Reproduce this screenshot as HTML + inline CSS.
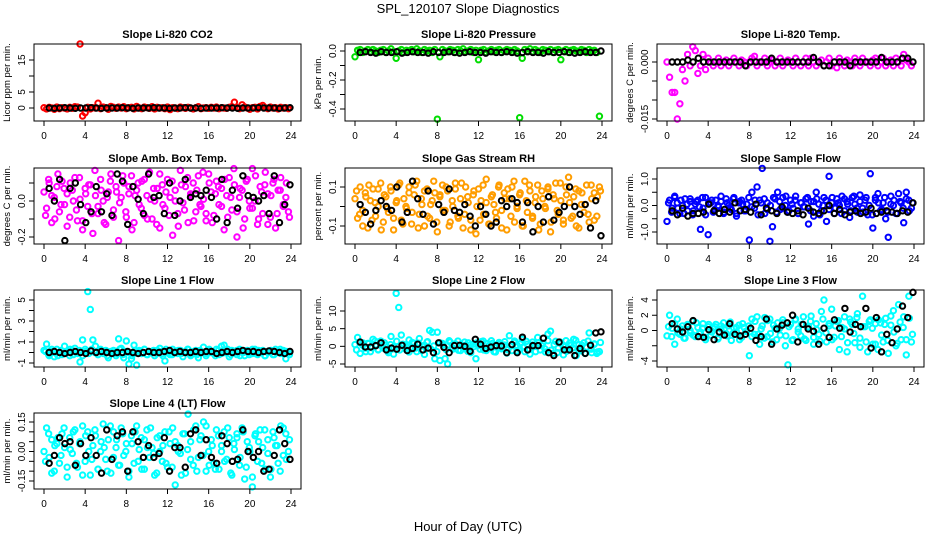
<!DOCTYPE html>
<html><head><meta charset="utf-8"><style>
body{margin:0;background:#fff;}
svg{display:block;font-family:"Liberation Sans",sans-serif;}
</style></head><body>
<svg id="chart" width="936" height="540" viewBox="0 0 936 540">
<text x="468" y="13" font-size="13" text-anchor="middle">SPL_120107  Slope Diagnostics</text>
<text x="468" y="531" font-size="13" text-anchor="middle">Hour of Day (UTC)</text>
</svg>
<script>
// ---- data ----
const xTicks = [0,4,8,12,16,20,24];
const co2Col = [0.1,-0.3,0.2,0,-0.4,0.3,-0.2,0.1,0,-0.3,0.2,-0.1,0.4,0.3,20,-2.5,-1.5,0.2,-0.3,0.1,0,1.5,-0.2,0.3,0.1,-0.4,0.5,0.2,-0.1,0.3,0,0.4,-0.2,0.1,0.2,-0.3,0.5,0,-0.2,0.3,0.1,-0.1,0.4,-0.3,0.2,0,0.1,-0.2,0.3,-0.5,0.1,0,-0.2,0.3,0.1,-0.1,0.2,0,-0.3,0.1,0.4,-0.2,0,0.1,-0.1,0.2,0,0.3,-0.2,0.1,0,-0.1,0.2,0.4,1.8,0.1,-0.2,1.0,0.3,0,-0.4,0.1,0.2,-0.3,0.5,0.8,0.1,-0.2,0.3,0,0.1,-0.3,0.2,0,0.1,-0.2];
const co2Blk = [0,-0.1,0,0.1,0,-0.1,0,0,0.1,0,-0.1,0,0,0,0.1,0,-0.1,0,0,0,0.1,0,0,-0.1,0,0,0.1,0,0,-0.1,0,0,0,0.1,0,0,-0.1,0,0,0,0.1,0,0,0,-0.1,0,0.1];
const presCol = [-0.04,0.005,0.01,-0.01,0,0.01,-0.005,0.01,0,-0.01,0.005,0.01,-0.01,0,0.015,-0.005,-0.05,0,0.01,-0.01,0.005,0,0.01,-0.005,0.015,0,-0.01,0.01,0,0.005,-0.01,0.01,-0.47,-0.04,0.01,0,-0.005,0.01,0.005,-0.01,0.01,0,0.015,-0.005,0,0.01,-0.01,0.005,-0.06,0.005,0.01,-0.01,0,0.01,-0.005,0.005,0.01,-0.01,0,0.01,0.005,-0.005,0.01,0,-0.46,-0.05,0.01,0,0.015,-0.005,0.01,0,-0.01,0.01,0.005,0,0.01,-0.01,0.005,0.01,-0.06,0,0.01,-0.01,0.005,0.01,0,-0.005,0.01,0.005,-0.01,0.01,0,0.005,-0.01,-0.45];
const presBlk = [-0.01,-0.005,-0.01,-0.015,-0.005,-0.01,-0.01,-0.005,-0.015,-0.01,-0.005,-0.01,-0.01,-0.015,-0.005,-0.01,-0.01,-0.005,-0.01,-0.015,-0.01,-0.005,-0.01,-0.01,-0.015,-0.005,-0.01,-0.01,-0.005,-0.01,-0.015,-0.01,-0.005,-0.01,-0.01,-0.015,-0.005,-0.01,-0.01,-0.005,-0.01,-0.015,-0.01,-0.005,-0.01,-0.01,0];
const tempCol = [0,-0.004,-0.008,-0.008,-0.015,-0.011,-0.002,-0.005,0.002,-0.001,0.004,0.003,-0.003,-0.001,0.002,-0.002,0.001,0,-0.001,0,0.001,-0.001,0,0.0005,-0.001,0,0.001,0,-0.001,0.0005,0,-0.001,0,0.001,0.0015,-0.001,0,0,0.001,-0.001,0,0.0005,-0.001,0,0.001,-0.001,0,0.0005,0,-0.001,0.001,0,-0.001,0,0.001,-0.001,0.001,0,-0.001,0,0.0005,-0.001,0,0.001,-0.001,0,-0.0015,0.001,0,-0.001,0.0005,0,-0.001,0.001,0,-0.001,0.001,0,0,-0.001,0.0005,0.001,-0.001,0,0.001,-0.001,0,0.0005,-0.001,0.001,0,-0.001,0.002,0.0005,0,-0.001];
const tempBlk = [0,0,0,0.0005,0,0.001,0,0,0,0,0,0,0,0,-0.001,0,0,0,0,0.001,0,0,0,0,0,0,0,0.0012,0,-0.001,-0.001,0,0,0,-0.001,0,0,0,0,0,0.0012,0,0,0,0.001,0.001,0];
const ambCol = [0.05,-0.04,0.1,-0.12,0.02,0.08,-0.06,0.11,-0.02,0.04,-0.09,0.06,0.13,-0.11,0.01,-0.16,0.07,-0.03,0.09,-0.18,0.03,-0.07,0.12,0.0,-0.13,0.05,0.15,-0.05,0.08,-0.22,0.02,0.1,-0.09,0.04,0.14,-0.12,0.06,-0.02,0.11,-0.08,0.03,0.16,-0.1,0.0,0.07,-0.15,0.09,-0.04,0.12,0.02,-0.19,0.06,-0.07,0.17,-0.01,0.08,-0.12,0.04,0.1,-0.06,0.14,-0.03,0.01,-0.11,0.15,0.05,-0.08,0.11,-0.02,0.07,-0.16,0.03,0.13,-0.05,0.09,-0.2,0.02,0.06,-0.1,0.12,-0.04,0.18,0.0,-0.13,0.08,-0.07,0.16,0.04,-0.09,0.1,-0.15,0.06,0.13,-0.03,0.02,-0.06];
const ambCol2 = [-0.08,0.12,0.03,-0.1,0.15,-0.02,0.07,-0.14,0.1,0.0,-0.05,0.13,-0.11,0.04,0.09,-0.07,0.17,-0.03,0.06,-0.12,0.02,0.11,-0.09,0.05,-0.01,0.14,-0.06,0.08,-0.16,0.03,0.1,-0.04,0.12,-0.1,0.01,0.07,-0.13,0.15,-0.02,0.05,-0.08,0.11,0.0,-0.14,0.09,-0.05,0.13,0.03,-0.11,0.06,-0.02,0.16,-0.07,0.1,-0.12,0.04,0.08,-0.03,0.12,-0.09,0.02,0.18,-0.06,0.07,-0.15,0.11,0.0,-0.04,0.14,-0.1,0.05,0.09,-0.13,0.03,0.12,-0.07,0.06,-0.02,0.1,-0.09];
const ambBlk = [0.07,0.0,0.12,-0.22,0.07,0.1,-0.02,-0.12,-0.06,0.08,-0.06,0.04,-0.08,0.15,0.11,-0.13,0.08,0.01,-0.07,0.15,0.02,0.03,-0.07,0.1,-0.08,0.0,0.12,0.02,0.04,0.03,0.06,0.02,-0.1,0.12,-0.12,0.06,-0.04,0.14,0.03,0.02,0.0,0.03,-0.07,0.14,-0.12,-0.02,0.09];
const rhCol = [0.04,-0.06,0.1,-0.02,0.07,-0.11,0.03,0.09,-0.05,0.0,0.12,-0.08,0.05,-0.03,0.08,-0.12,0.02,0.11,-0.07,0.04,-0.01,0.1,-0.09,0.06,0.13,-0.04,0.01,-0.1,0.09,-0.06,0.03,0.07,-0.13,0.05,0.11,-0.02,0.08,-0.08,0.0,0.12,-0.05,0.04,-0.11,0.1,0.02,-0.07,0.06,-0.14,0.09,0.03,-0.04,0.14,-0.09,0.05,0.01,-0.06,0.11,-0.02,0.07,-0.12,0.04,0.1,-0.08,0.0,0.06,-0.1,0.13,-0.03,0.08,-0.05,0.02,0.11,-0.09,0.04,-0.01,0.09,-0.13,0.06,0.12,-0.04,0.03,-0.07,0.1,0.15,-0.06,0.05,-0.1,0.08,0.01,-0.03,0.11,-0.08,0.04,0.07,-0.05,0.1];
const rhCol2 = [0.08,-0.04,-0.1,0.05,0.11,-0.07,0.02,0.09,-0.12,0.06,-0.01,0.1,-0.06,0.03,0.12,-0.09,0.0,0.07,-0.03,0.11,-0.11,0.04,0.08,-0.05,0.01,0.13,-0.08,0.06,-0.02,0.1,-0.1,0.03,0.09,-0.06,0.12,-0.04,0.05,-0.12,0.08,0.0,-0.07,0.11,0.02,-0.09,0.06,-0.03,0.1,-0.11,0.04,0.09,-0.05,0.13,-0.01,0.07,-0.1,0.03,0.11,-0.06,0.05,-0.12,0.08,0.0,0.1,-0.08,0.04,-0.02,0.12,-0.09,0.06,0.02,-0.05,0.09,-0.11,0.07,0.01,-0.04,0.11,-0.07,0.05,0.08];
const rhBlk = [0.01,-0.03,-0.09,-0.02,0.03,0.0,-0.02,0.1,-0.08,-0.03,0.13,0.04,-0.04,0.08,-0.09,0.01,-0.03,0.09,-0.02,-0.03,0.01,-0.05,-0.1,0.0,-0.04,-0.1,-0.08,0.03,0.0,0.04,0.02,-0.08,0.02,-0.13,0.0,-0.08,0.05,-0.07,-0.03,0.0,0.1,0.0,-0.04,0.01,-0.11,0.03,-0.15];
const flowCol = [-0.6,0.2,-0.1,0.35,0.1,-0.3,0.0,0.25,-0.2,0.15,-0.35,0.05,0.2,-0.9,-0.1,0.3,-1.1,0.1,-0.25,0.2,-0.05,0.15,-0.3,0.25,0.0,-0.15,0.3,-0.4,0.1,0.2,-0.2,0.05,-1.3,0.5,-0.1,0.7,0.2,1.4,-0.3,0.1,-1.35,-0.8,0.25,0.5,-0.15,0.3,0.0,-0.25,0.2,-0.1,0.35,-0.3,0.1,-0.05,0.25,-0.7,0.15,-0.4,0.5,0.05,-0.2,0.3,-0.6,1.1,0.1,-0.3,0.25,0.0,0.35,-0.2,0.15,-0.45,0.3,0.05,-0.25,0.4,-0.1,0.2,-0.35,1.2,-0.85,0.3,0.45,-0.2,0.1,-0.5,-1.2,0.35,0.0,-0.3,0.45,0.1,-0.65,0.5,0.2,-0.1];
const flowCol2 = [0.1,-0.25,0.3,-0.1,0.2,-0.3,0.05,0.25,-0.2,0.15,-0.05,0.3,-0.35,0.1,0.2,-0.15,0.0,0.35,-0.25,0.1,-0.1,0.25,-0.3,0.15,0.05,-0.2,0.3,-0.05,0.2,-0.35,0.1,0.25,-0.15,0.0,0.3,-0.25,0.15,-0.1,0.35,-0.2,0.05,0.2,-0.3,0.1,-0.05,0.3,-0.2,0.15,0.25,-0.35,0.0,0.2,-0.15,0.3,-0.1,0.1,-0.3,0.25,0.05,-0.2,0.35,-0.1,0.15,-0.25,0.3,0.0,-0.35,0.2,0.1,-0.15,0.3,-0.25,0.05,0.2,-0.3,0.15,-0.1,0.25,-0.2,0.1];
const flowBlk = [-0.2,-0.35,-0.1,-0.4,-0.3,-0.3,-0.25,0.05,-0.2,-0.3,-0.15,-0.25,0.1,-0.2,-0.15,-0.25,0.05,-0.35,-0.1,-0.2,-0.3,-0.05,-0.25,-0.3,-0.2,-0.35,-0.1,-0.25,-0.3,-0.2,0.0,-0.3,-0.15,-0.35,-0.25,-0.2,-0.3,-0.25,-0.1,-0.3,-0.25,-0.2,-0.25,-0.3,-0.2,-0.25,0.1];
const l1Col = [0.2,0.8,-0.3,0.1,-0.4,0.3,0.0,-0.2,0.6,0.1,-0.3,0.2,0.4,-0.1,-0.9,1.2,0.3,5.8,4.1,1.2,0.6,-0.2,0.3,-0.1,0.2,-0.5,0.1,0.0,-0.3,1.3,0.4,-0.5,1.1,-1.1,-0.6,0.7,-1.2,0.2,-0.1,0.3,-0.2,0.1,0.0,-0.3,0.2,0.4,-0.1,-0.8,0.1,-0.2,0.3,0.0,-0.1,0.2,-0.4,0.1,0.3,-0.2,0.0,0.2,-0.5,0.1,0.5,-0.3,0.2,0.0,-0.1,0.3,-0.2,0.6,0.7,0.1,-0.4,0.2,0.0,-0.2,0.3,0.1,-0.3,0.2,0.0,-0.1,0.3,-0.2,0.1,0.2,-0.3,0.0,0.1,-0.2,0.3,0.1,-0.1,0.2,-0.6,0.0];
const l1Col2 = [0.1,-0.2,0.3,0.0,-0.3,0.2,-0.1,0.1,0.3,-0.2,0.0,0.2,-0.3,0.1,-0.1,0.3,0.0,-0.2,0.2,0.1,-0.3,0.0,0.2,-0.1,0.3,-0.2,0.1,0.0,-0.3,0.2,0.1,-0.1,0.3,-0.2,0.0,0.2,-0.1,0.1,-0.3,0.3,0.0,-0.2,0.1,0.2,-0.1,0.0,0.3,-0.3,0.1,-0.2,0.2,0.0,-0.1,0.3,0.1,-0.3,0.2,-0.1,0.0,0.3,-0.2,0.1,0.2,-0.3,0.0,0.1,-0.2,0.3,-0.1,0.2,0.0,-0.3,0.1,0.2,-0.2,0.0,0.3,-0.1,0.1,-0.2];
const l1Blk = [0,0.1,0,-0.1,0,0.1,0,-0.1,0.15,0,0.1,0,-0.1,0,0,0.1,0,-0.1,0,0.1,0,0,0.1,0.2,0,0.1,0,0,0.1,0,0.1,0.1,-0.1,0,0.1,0,0.1,0.2,0.1,0.1,0,0.1,0.15,0.1,0,-0.1,0.1];
const l2Col = [0.5,2.5,-2,1,-0.5,0.8,-1.5,2,0.2,-1,1.5,-0.5,0.3,-1.8,2.8,-2.2,15,11,3.2,0.5,-1,1.8,-0.3,0.9,-1.5,2.2,0.1,-2.3,1.2,4.5,4,-3.5,4,-4,0.8,-3.5,-5,1.2,-0.8,0.5,1.5,-1.2,0.3,-0.5,1,-1.8,0.6,-3.5,0.2,1.3,-1,0.8,-0.4,1.6,-1.5,0.2,1.1,-0.7,0.4,-1.9,3,-1.2,1.5,0.3,-0.8,2,-1.5,0.6,-2.2,1.2,0,2.5,-1,0.9,-1.6,3.5,4.3,-2,1.4,-0.5,0.8,-2.4,1.6,-1,0.3,2,-2.6,0.5,-1.3,1,-0.2,3.8,-1.8,0.7,-2,-1.5];
const l2Col2 = [-1,1.2,0.3,-1.5,0.8,-0.4,1.5,-0.9,0.2,1,-1.3,0.5,-0.2,1.4,-1,0.6,0,-1.6,1.1,-0.5,0.9,-1.2,0.3,1.3,-0.7,0.1,-1.5,1,0.4,-0.9,1.6,-0.3,0.7,-1.1,0.2,1.2,-1.4,0.5,-0.1,1,-0.8,1.5,-1.2,0.3,0.8,-1.6,0.6,-0.4,1.3,-1,0.1,1.1,-1.3,0.7,-0.2,1.4,-0.9,0.4,-1.5,1,0.2,-0.7,1.6,-1.1,0.5,-1.8,1.2,0,-1.4,0.9,-0.5,1.7,-1.2,0.3,-2,1.5,-0.8,0.6,-1.6,1.1];
const l2Blk = [1.2,-0.2,-0.2,0.2,1,-1,-0.5,-0.8,0.3,-1.2,-0.6,0.6,-1,-0.5,-1.8,1,-0.3,-1.8,0.2,0.3,0,-1.4,2,0.6,-0.6,-0.2,0.2,0.1,-1.8,0.5,-1.8,2.6,-1,0.2,0.2,2.3,-1.8,-2.6,1.2,-1,-1,-2.6,-0.6,-2,0.3,3.8,4.1];
const l3Col = [-0.7,2,0.3,-1.8,1.5,-0.5,0.6,-1,0.8,-0.3,1.2,-0.8,0.4,-0.2,0.9,-1.2,0.5,-0.6,0.3,0.8,-0.9,0.2,1,-0.4,0.6,-1.3,0.3,-0.2,0.7,-0.9,0.4,-0.1,-3.3,1.5,-0.5,1.8,-1.8,0.6,1.7,-0.8,1.5,-1.5,0.3,1,-0.6,1.4,-2,-4.5,0.8,-1.2,1.5,0.2,-0.7,1.8,-1.3,0.5,1.9,-1.8,0.9,-0.5,2.5,4,-1.5,0.6,2.8,-0.9,1.2,-2.5,0.4,1.8,-2.8,1.5,0.8,-1.6,2.2,-2.2,4.5,0.5,-2.8,1.4,-1.8,0.9,-2.5,1,-1.5,1.6,-3,0.7,2.6,-2,3.4,-1.2,1.8,-3.2,4.5,-1.5];
const l3Col2 = [0.5,-0.8,0.9,-0.3,0.2,-1,0.7,0,-0.6,1,-0.4,0.3,-0.9,0.8,-0.2,0.5,-1.1,0.6,0.1,-0.7,1.1,-0.3,0.4,-1.2,0.9,-0.1,0.6,-0.8,1.2,-0.5,0.2,-1,1.3,-0.4,0.7,-1.2,0.3,1,-0.7,0.5,-1.3,1.4,-0.2,0.8,-1.1,0.4,1.2,-0.9,0.1,-1.4,1.5,-0.3,0.9,-1.2,0.6,1.3,-0.8,0.2,-1.6,1.1,-0.4,1.7,-1,0.5,-1.5,1.2,0.3,-1.8,1.4,-0.6,0.8,-1.3,1.9,-0.2,-1.7,1.1,0.4,-1.2,1.6,-0.5];
const l3Blk = [0.9,0.2,-0.2,0.5,1.3,-0.8,-0.9,0.1,-1.2,-0.2,-0.6,0.9,-0.5,-0.7,-0.5,0.3,-1.3,-0.8,1.5,-1.8,0.2,0.7,1,2,-1.5,0.8,0.2,-0.1,-1.8,0.3,-0.9,1.4,0.3,2.9,-0.2,0.8,0.5,2.9,-2.3,1.7,-2.8,-0.5,-1.6,0.2,3.2,1.7,5];
const l4Col = [0.0,0.12,-0.03,0.06,-0.1,0.04,-0.06,0.09,0.02,-0.13,0.07,-0.01,0.11,-0.08,0.05,0.13,-0.05,0.1,-0.12,0.03,0.08,-0.09,0.0,0.14,-0.04,0.06,-0.11,0.1,0.02,-0.07,0.12,-0.02,0.04,-0.1,0.08,-0.06,0.13,0.01,-0.09,0.06,0.11,-0.03,0.02,-0.12,0.07,0.0,-0.05,0.1,-0.08,0.04,0.12,-0.17,0.03,-0.01,0.09,-0.11,0.19,0.05,-0.07,0.13,-0.03,0.08,0.15,-0.1,0.0,0.06,-0.06,0.11,-0.09,0.03,0.1,-0.04,0.07,-0.12,0.01,0.09,-0.07,0.12,-0.14,0.05,0.0,-0.18,0.08,-0.05,0.11,0.02,-0.09,0.06,-0.13,0.1,0.03,-0.06,0.13,-0.02,0.09,0.0];
const l4Col2 = [-0.05,0.09,-0.11,0.03,0.07,-0.02,0.12,-0.08,0.01,0.1,-0.06,0.04,-0.12,0.08,0.0,-0.04,0.11,-0.09,0.05,0.02,-0.1,0.13,-0.03,0.06,-0.07,0.09,0.0,-0.13,0.04,0.1,-0.05,0.07,-0.09,0.02,0.12,-0.01,-0.11,0.08,0.03,-0.06,0.1,-0.08,0.05,0.0,-0.12,0.09,0.01,-0.04,0.11,-0.1,0.06,-0.02,0.13,-0.07,0.03,-0.09,0.08,0.0,-0.05,0.12,-0.11,0.04,0.07,-0.03,0.1,-0.08,0.02,-0.13,0.09,0.05,-0.06,0.11,-0.01,-0.09,0.07,0.03,-0.1,0.12,-0.04,0.06];
const l4Blk = [-0.06,-0.02,0.07,0.04,0.05,-0.07,0.04,-0.02,0.07,-0.02,-0.11,0.11,-0.04,0.08,0.1,-0.1,0.1,0.05,-0.03,0.03,-0.03,-0.01,0.07,-0.1,0.02,0.02,-0.08,0.09,0.11,-0.02,0.06,-0.03,-0.06,0.08,0.04,-0.05,-0.04,0.11,0.0,-0.03,0.0,-0.1,-0.09,-0.02,0.11,0.04,-0.04];

// ---- panel layout (not data) ----
const colsX = [34,345,657];
const rowsY = [[44,121],[168,244],[290,367],[413,489]];
const panels = [
 {name:'co2',title:'Slope Li-820 CO2',ylab:'Licor ppm per min.',c:0,r:0,col:'#ff0000',v1:0,p1:108,v2:15,p2:60,ticks:[0,5,10,15],labels:['0','5','','15'],dc:co2Col,dc2:[],db:co2Blk},
 {name:'pressure',title:'Slope Li-820 Pressure',ylab:'kPa per min.',c:1,r:0,col:'#00dd00',v1:0,p1:51,v2:-0.4,p2:109,ticks:[0,-0.1,-0.2,-0.3,-0.4],labels:['0.0','','-0.2','','-0.4'],dc:presCol,dc2:[],db:presBlk},
 {name:'temp',title:'Slope Li-820 Temp.',ylab:'degrees C per min.',c:2,r:0,col:'#ff00ff',v1:0,p1:62,v2:-0.015,p2:119,ticks:[0,-0.005,-0.01,-0.015],labels:['0.000','','','-0.015'],dc:tempCol,dc2:[],db:tempBlk},
 {name:'amb-box-temp',title:'Slope Amb. Box Temp.',ylab:'degrees C per min.',c:0,r:1,col:'#ff00ff',v1:0,p1:201,v2:-0.2,p2:237,ticks:[-0.2,-0.1,0,0.1],labels:['-0.2','','0.0',''],dc:ambCol,dc2:ambCol2,db:ambBlk},
 {name:'gas-rh',title:'Slope Gas Stream RH',ylab:'percent per min.',c:1,r:1,col:'#ff9d00',v1:0.1,p1:187,v2:-0.1,p2:226,ticks:[-0.1,0,0.1],labels:['-0.1','','0.1'],dc:rhCol,dc2:rhCol2,db:rhBlk},
 {name:'sample-flow',title:'Slope Sample Flow',ylab:'ml/min per min.',c:2,r:1,col:'#0000ff',v1:1,p1:179,v2:-1,p2:232,ticks:[-1,-0.5,0,0.5,1],labels:['-1.0','','0.0','','1.0'],dc:flowCol,dc2:flowCol2,db:flowBlk},
 {name:'line1-flow',title:'Slope Line 1 Flow',ylab:'ml/min per min.',c:0,r:2,col:'#00ffff',v1:5,p1:300,v2:-1,p2:363,ticks:[-1,0,1,2,3,4,5],labels:['-1','','1','','3','','5'],dc:l1Col,dc2:l1Col2,db:l1Blk},
 {name:'line2-flow',title:'Slope Line 2 Flow',ylab:'ml/min per min.',c:1,r:2,col:'#00ffff',v1:10,p1:311,v2:-5,p2:364,ticks:[-5,0,5,10],labels:['-5','0','5','10'],dc:l2Col,dc2:l2Col2,db:l2Blk},
 {name:'line3-flow',title:'Slope Line 3 Flow',ylab:'ml/min per min.',c:2,r:2,col:'#00ffff',v1:4,p1:300,v2:-4,p2:361,ticks:[-4,-2,0,2,4],labels:['-4','','0','2','4'],dc:l3Col,dc2:l3Col2,db:l3Blk},
 {name:'line4-flow',title:'Slope Line 4 (LT) Flow',ylab:'ml/min per min.',c:0,r:3,col:'#00ffff',v1:0.15,p1:422,v2:-0.15,p2:481,ticks:[-0.15,-0.1,-0.05,0,0.05,0.1,0.15],labels:['-0.15','','','0.00','','','0.15'],dc:l4Col,dc2:l4Col2,db:l4Blk}
];
const NS='http://www.w3.org/2000/svg';
const svg=document.getElementById('chart');
function mk(tag,attrs,parent){const e=document.createElementNS(NS,tag);for(const k in attrs)e.setAttribute(k,attrs[k]);parent.appendChild(e);return e;}
panels.forEach(p=>{
  const L=colsX[p.c], R=L+267, T=rowsY[p.r][0], B=rowsY[p.r][1];
  const xs=t=>L+10+t*(247/24);
  const ys=v=>p.p1+(v-p.v1)*(p.p2-p.p1)/(p.v2-p.v1);
  const g=mk('g',{},svg);
  
  
  const tt=mk('text',{x:(L+R)/2,y:T-6,'font-size':11,'font-weight':'bold','text-anchor':'middle'},g);
  tt.textContent=p.title;
  
  
  const yl=mk('text',{x:0,y:0,'font-size':9.5,'text-anchor':'middle',transform:`translate(${L-24},${(T+B)/2}) rotate(-90)`},g);
  yl.textContent=p.ylab;
  
  
  const pts=mk('g',{fill:'none','stroke-width':2},g);
  
  
  p.dc.forEach((v,i)=>{
    const c=mk('circle',{cx:xs(i*24/p.dc.length),cy:ys(v),r:2.7,stroke:p.col},pts);
    
    
  });
  p.dc2.forEach((v,i)=>{
    const c=mk('circle',{cx:xs((i+0.5)*24/p.dc2.length),cy:ys(v),r:2.7,stroke:p.col},pts);
    
    
  });
  p.db.forEach((v,i)=>{
    const c=mk('circle',{cx:xs(0.5+i*23.4/(p.db.length-1)),cy:ys(v),r:2.7,stroke:'#000'},pts);
    
    
  });
  const box=mk('rect',{x:L,y:T,width:R-L,height:B-T,fill:'none',stroke:'#000','stroke-width':1},g);
  
  
  xTicks.forEach(t=>{
    const x=xs(t);
    mk('line',{x1:x,x2:x,y1:B,y2:B+5,stroke:'#000'},g);
    const lab=mk('text',{x:x,y:B+18,'font-size':10,'text-anchor':'middle'},g);
    lab.textContent=t;
    
    
  });
  p.ticks.forEach((v,i)=>{
    const y=ys(v);
    mk('line',{x1:L-5,x2:L,y1:y,y2:y,stroke:'#000'},g);
    if(p.labels[i]){
      const lab=mk('text',{x:0,y:0,'font-size':10,'text-anchor':'middle',transform:`translate(${L-9},${y}) rotate(-90)`},g);
      lab.textContent=p.labels[i];
      
      
    }
  });
});
</script>
</body></html>
